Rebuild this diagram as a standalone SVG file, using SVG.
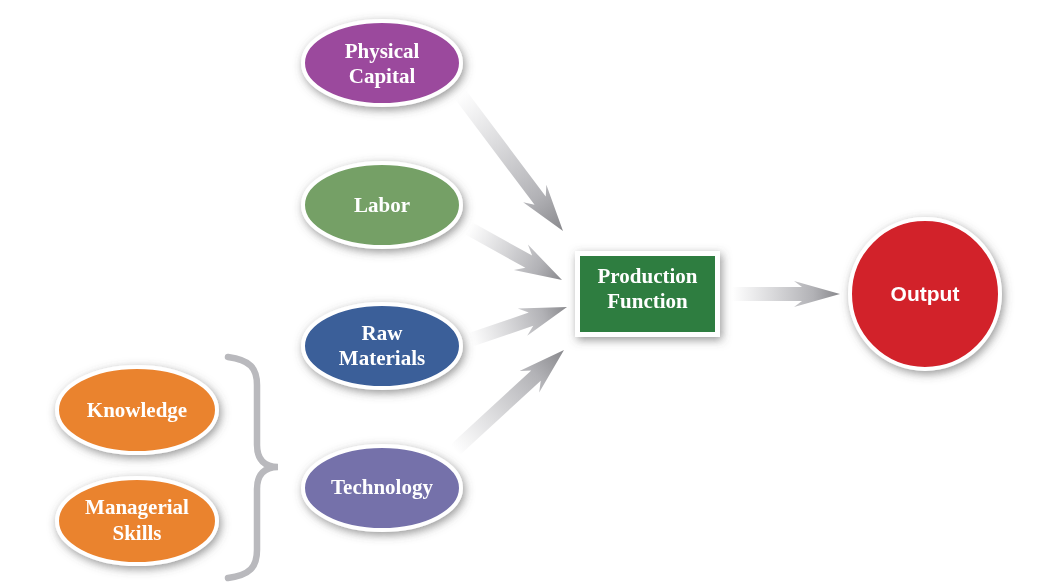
<svg xmlns="http://www.w3.org/2000/svg" width="1053" height="585" viewBox="0 0 1053 585">
<defs>
<filter id="sh" x="-30%" y="-30%" width="160%" height="160%">
<feGaussianBlur in="SourceAlpha" stdDeviation="5"/>
<feOffset dx="2" dy="3" result="b"/>
<feFlood flood-color="#505050" flood-opacity="0.6"/>
<feComposite in2="b" operator="in"/>
<feMerge><feMergeNode/><feMergeNode in="SourceGraphic"/></feMerge>
</filter>
<linearGradient id="ag" x1="0" y1="0" x2="1" y2="0">
<stop offset="0" stop-color="#ffffff"/>
<stop offset="0.35" stop-color="#dcdcde"/>
<stop offset="0.75" stop-color="#b2b2b6"/>
<stop offset="1" stop-color="#88888c"/>
</linearGradient>
<style>
.nd{stroke:#fff;stroke-width:4}
.t{font-family:"Liberation Serif","Times New Roman",serif;font-weight:bold;font-size:21px;fill:#fff;text-anchor:middle}
.ts{font-family:"Liberation Sans",Arial,sans-serif;font-weight:bold;font-size:21px;fill:#fff;text-anchor:middle}
.ar{fill:url(#ag)}
</style>
</defs>
<rect width="1053" height="585" fill="#fff"/>
<g id="connectors">
<g transform="translate(563,231) rotate(53.06)"><path class="ar" d="M-171,-7 L-38,-7 L-47,-14.5 L0,0 L-47,14.5 L-38,7 L-171,7 Z"/></g>
<g transform="translate(562,280) rotate(28.95)"><path class="ar" d="M-107,-7 L-38,-7 L-47,-14.5 L0,0 L-47,14.5 L-38,7 L-107,7 Z"/></g>
<g transform="translate(567,307) rotate(-18.79)"><path class="ar" d="M-102,-7 L-38,-7 L-47,-14.5 L0,0 L-47,14.5 L-38,7 L-102,7 Z"/></g>
<g transform="translate(564,350) rotate(-42.53)"><path class="ar" d="M-148,-7 L-38,-7 L-47,-14.5 L0,0 L-47,14.5 L-38,7 L-148,7 Z"/></g>
<g transform="translate(840,294)"><path class="ar" d="M-108,-7 L-38,-7 L-46,-13 L0,0 L-46,13 L-38,7 L-108,7 Z"/></g>
<path id="brace" d="M228,357 C250,360 257,368 257,385 L257,445 C257,460 265,467 278,467 C265,467 257,474 257,489 L257,550 C257,567 250,575 228,578" fill="none" stroke="#b9b9bd" stroke-width="6.5" stroke-linecap="round"/>
</g>
<g id="physical-capital" filter="url(#sh)">
<ellipse class="nd" cx="382" cy="63" rx="79" ry="42" fill="#9b4a9d"/>
<text class="t" x="382" y="58">Physical</text>
<text class="t" x="382" y="83">Capital</text>
</g>
<g id="labor" filter="url(#sh)">
<ellipse class="nd" cx="382" cy="205" rx="79" ry="42" fill="#74a066"/>
<text class="t" x="382" y="212">Labor</text>
</g>
<g id="raw-materials" filter="url(#sh)">
<ellipse class="nd" cx="382" cy="346" rx="79" ry="42" fill="#3a5e99"/>
<text class="t" x="382" y="340">Raw</text>
<text class="t" x="382" y="365">Materials</text>
</g>
<g id="technology" filter="url(#sh)">
<ellipse class="nd" cx="382" cy="488" rx="79" ry="42" fill="#7471aa"/>
<text class="t" x="382" y="494">Technology</text>
</g>
<g id="knowledge" filter="url(#sh)">
<ellipse class="nd" cx="137" cy="410" rx="80" ry="43" fill="#ea832f"/>
<text class="t" x="137" y="417">Knowledge</text>
</g>
<g id="managerial-skills" filter="url(#sh)">
<ellipse class="nd" cx="137" cy="521" rx="80" ry="43" fill="#ea832f"/>
<text class="t" x="137" y="514">Managerial</text>
<text class="t" x="137" y="540">Skills</text>
</g>
<g id="production-function" filter="url(#sh)">
<rect x="577.5" y="253.5" width="140" height="81" fill="#2e7d3f" stroke="#fff" stroke-width="5"/>
<text class="t" x="647.5" y="283">Production</text>
<text class="t" x="647.5" y="308">Function</text>
</g>
<g id="output" filter="url(#sh)">
<circle cx="925" cy="294" r="75" fill="#d2222b" stroke="#fff" stroke-width="4"/>
<text class="ts" x="925" y="301">Output</text>
</g>
</svg>
